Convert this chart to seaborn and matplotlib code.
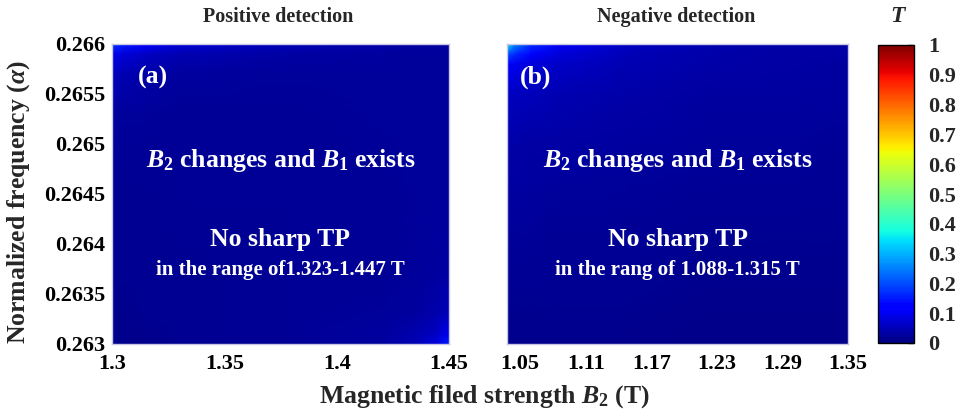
import numpy as np
import matplotlib
matplotlib.use("Agg")
import matplotlib.pyplot as plt
import seaborn as sns

# Transmission T sampled on (B2, alpha) nodes for positive detection
b2_pos = [1.300, 1.305, 1.315, 1.330, 1.375, 1.420, 1.435, 1.444, 1.450]
alpha_pos = [0.2630, 0.2631, 0.2633, 0.2637, 0.2645, 0.2653, 0.2657, 0.2659, 0.2660]
T_pos = [
    [0.015, 0.015, 0.015, 0.016, 0.020, 0.030, 0.048, 0.085, 0.150],
    [0.015, 0.015, 0.015, 0.016, 0.020, 0.028, 0.040, 0.062, 0.100],
    [0.015, 0.015, 0.016, 0.017, 0.020, 0.025, 0.030, 0.040, 0.052],
    [0.016, 0.016, 0.017, 0.018, 0.020, 0.023, 0.025, 0.028, 0.032],
    [0.018, 0.018, 0.019, 0.020, 0.022, 0.023, 0.024, 0.025, 0.027],
    [0.030, 0.027, 0.024, 0.023, 0.023, 0.024, 0.025, 0.025, 0.026],
    [0.055, 0.045, 0.036, 0.030, 0.026, 0.025, 0.025, 0.026, 0.026],
    [0.100, 0.082, 0.062, 0.046, 0.033, 0.028, 0.027, 0.027, 0.027],
    [0.185, 0.150, 0.110, 0.078, 0.050, 0.037, 0.030, 0.029, 0.028],
]

# Transmission T sampled on (B2, alpha) nodes for negative detection
b2_neg = [1.038, 1.045, 1.060, 1.085, 1.150, 1.230, 1.300, 1.350]
alpha_neg = [0.2630, 0.2635, 0.2642, 0.2650, 0.2655, 0.2658, 0.2659, 0.2660]
T_neg = [
    [0.015, 0.015, 0.015, 0.014, 0.013, 0.011, 0.010, 0.010],
    [0.018, 0.018, 0.018, 0.017, 0.016, 0.014, 0.012, 0.012],
    [0.024, 0.024, 0.024, 0.023, 0.021, 0.019, 0.017, 0.016],
    [0.036, 0.036, 0.035, 0.033, 0.029, 0.026, 0.024, 0.023],
    [0.062, 0.058, 0.052, 0.045, 0.036, 0.031, 0.029, 0.028],
    [0.110, 0.098, 0.082, 0.064, 0.044, 0.036, 0.032, 0.031],
    [0.200, 0.165, 0.120, 0.082, 0.050, 0.038, 0.034, 0.033],
    [0.360, 0.260, 0.170, 0.105, 0.056, 0.041, 0.036, 0.034],
]

xticks_pos = [1.3, 1.35, 1.4, 1.45]
xticklabels_pos = ["1.3", "1.35", "1.4", "1.45"]
xticks_neg = [1.05, 1.11, 1.17, 1.23, 1.29, 1.35]
xticklabels_neg = ["1.05", "1.11", "1.17", "1.23", "1.29", "1.35"]
yticks = [0.263, 0.2635, 0.264, 0.2645, 0.265, 0.2655, 0.266]
yticklabels = ["0.263", "0.2635", "0.264", "0.2645", "0.265", "0.2655", "0.266"]
cbar_ticks = [0, 0.1, 0.2, 0.3, 0.4, 0.5, 0.6, 0.7, 0.8, 0.9, 1]
cbar_labels = ["0", "0.1", "0.2", "0.3", "0.4", "0.5", "0.6", "0.7", "0.8", "0.9", "1"]

sns.set_theme(style="white")
plt.rcParams["font.family"] = ["Liberation Serif", "DejaVu Serif"]
plt.rcParams["font.weight"] = "bold"
plt.rcParams["mathtext.fontset"] = "custom"
plt.rcParams["mathtext.rm"] = "Liberation Serif:bold"
plt.rcParams["mathtext.bf"] = "Liberation Serif:bold"
plt.rcParams["mathtext.it"] = "Liberation Serif:italic:bold"
plt.rcParams["mathtext.bfit"] = "Liberation Serif:italic:bold"

cmap = plt.get_cmap("jet")
fig = plt.figure(figsize=(9.57, 4.16), dpi=100)
ax_a = fig.add_axes([112 / 957, 72 / 416, 337 / 957, 300 / 416])
ax_b = fig.add_axes([507 / 957, 72 / 416, 341 / 957, 300 / 416])
cax = fig.add_axes([878 / 957, 73 / 416, 36 / 957, 298 / 416])

tick_kw = dict(fontsize=16, fontweight="bold", color="black")

for ax, bx, ay, T, xt, xtl in [
    (ax_a, b2_pos, alpha_pos, T_pos, xticks_pos, xticklabels_pos),
    (ax_b, b2_neg, alpha_neg, T_neg, xticks_neg, xticklabels_neg),
]:
    X, Y = np.meshgrid(bx, ay)
    mesh = ax.pcolormesh(X, Y, np.array(T), cmap=cmap, vmin=0, vmax=1,
                         shading="gouraud", rasterized=True)
    ax.set_xlim(bx[0], bx[-1])
    ax.set_ylim(ay[0], ay[-1])
    ax.set_xticks(xt)
    ax.set_xticklabels(xtl, **tick_kw)
    ax.tick_params(length=0, pad=7)
    for s in ax.spines.values():
        s.set_color("#c8c8e6")
        s.set_linewidth(1.0)

ax_a.set_yticks(yticks)
ax_a.set_yticklabels(yticklabels, **tick_kw)
ax_a.tick_params(axis="y", pad=5)
ax_b.set_yticks([])

fig.text(19 / 957, 1 - 202 / 416, r"Normalized frequency ($\alpha$)", fontsize=18.5,
         fontweight="bold", rotation=90, ha="center", va="center")
fig.text(484 / 957, 1 - 397 / 416, r"Magnetic filed strength $B_2$ (T)",
         fontsize=18.5, fontweight="bold", ha="center", va="center")

fig.text(278 / 957, 1 - 17 / 416, "Positive detection", fontsize=14.5,
         fontweight="bold", ha="center", va="center")
fig.text(676 / 957, 1 - 17 / 416, "Negative detection", fontsize=14.5,
         fontweight="bold", ha="center", va="center")
fig.text(897 / 957, 1 - 17 / 416, "T", fontsize=17, fontweight="bold",
         fontstyle="italic", ha="center", va="center")

big_kw = dict(color="white", fontweight="bold", ha="center", va="center",
              fontsize=18.5)
small_kw = dict(big_kw, fontsize=15)
ax_a.text(0.122, 0.89, "(a)", transform=ax_a.transAxes, **big_kw)
ax_a.text(0.5, 0.613, r"$B_2$ changes and $B_1$ exists", transform=ax_a.transAxes, **big_kw)
ax_a.text(0.5, 0.347, "No sharp TP", transform=ax_a.transAxes, **big_kw)
ax_a.text(0.5, 0.247, "in the range of1.323-1.447 T", transform=ax_a.transAxes, **small_kw)

ax_b.text(0.085, 0.89, "(b)", transform=ax_b.transAxes, **big_kw)
ax_b.text(0.5, 0.613, r"$B_2$ changes and $B_1$ exists", transform=ax_b.transAxes, **big_kw)
ax_b.text(0.5, 0.347, "No sharp TP", transform=ax_b.transAxes, **big_kw)
ax_b.text(0.5, 0.247, "in the rang of 1.088-1.315 T", transform=ax_b.transAxes, **small_kw)

cb = fig.colorbar(mesh, cax=cax)
cb.set_ticks(cbar_ticks)
cb.set_ticklabels(cbar_labels)
cb.ax.tick_params(direction="in", length=4, width=1, color="#333333", pad=10)
for lbl in cb.ax.get_yticklabels():
    lbl.set_fontsize(16)
    lbl.set_fontweight("bold")
cb.outline.set_edgecolor("black")
cb.outline.set_linewidth(1.0)

fig.savefig("out.png", dpi=100)
